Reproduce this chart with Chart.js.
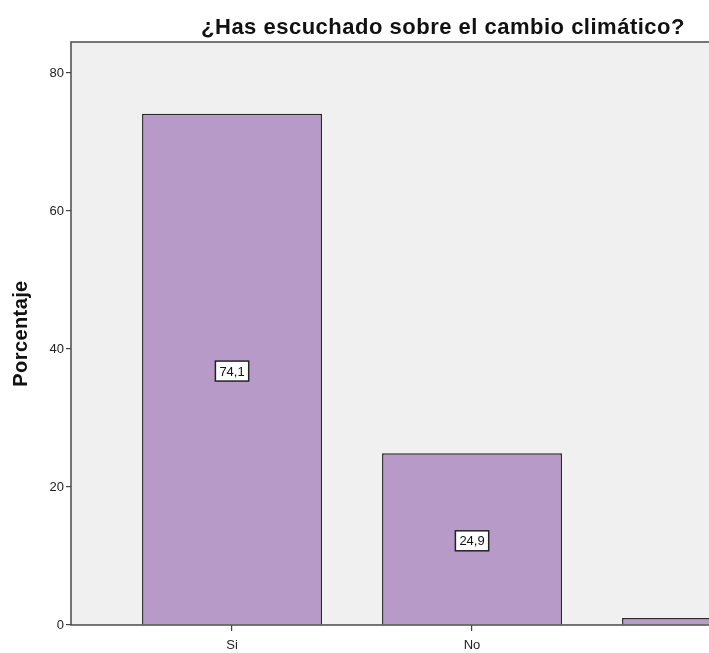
<!DOCTYPE html>
<html>
<head>
<meta charset="utf-8">
<script src="https://cdn.jsdelivr.net/npm/chart.js@4"></script>
<style>
    body { margin: 0; background: #fff; overflow: hidden; }
    #wrap { width: 830px; height: 653px; }
</style>
</head>
<body>
<div id="wrap"><canvas id="chart" width="830" height="653"></canvas></div>
<script>
const categories = ['Si', 'No', ''];
const percentages = [74.1, 24.9, 1.0];
const valueLabels = ['74,1', '24,9', ''];
const yTickValues = [0, 20, 40, 60, 80];
const chartTitle = '¿Has escuchado sobre el cambio climático?';
const yTitle = 'Porcentaje';

// plot background, frame, titles and value boxes
const framePlugin = {
    id: 'frame',
    beforeDraw(chart) {
        const { ctx, chartArea: a } = chart;
        ctx.save();
        ctx.fillStyle = '#f0f0f0';
        ctx.fillRect(a.left, a.top, a.right - a.left, a.bottom - a.top);
        ctx.restore();
    },
    afterDatasetsDraw(chart) {
        const { ctx, chartArea: a } = chart;
        ctx.save();
        ctx.strokeStyle = '#4a4a4a';
        ctx.lineWidth = 1.5;
        ctx.strokeRect(a.left, a.top, a.right - a.left, a.bottom - a.top);

        ctx.textAlign = 'center';
        ctx.textBaseline = 'middle';
        ctx.fillStyle = '#111';
        ctx.letterSpacing = '0.5px';
        ctx.font = 'bold 22px "Liberation Sans", Arial, sans-serif';
        ctx.fillText(chartTitle, (a.left + a.right) / 2, 28);

        ctx.save();
        ctx.letterSpacing = '0.4px';
        ctx.font = 'bold 20px "Liberation Sans", Arial, sans-serif';
        ctx.translate(21, (a.top + a.bottom) / 2);
        ctx.rotate(-Math.PI / 2);
        ctx.fillText(yTitle, 0, 0);
        ctx.restore();

        ctx.letterSpacing = '0px';
        ctx.font = '13px "Liberation Sans", Arial, sans-serif';
        chart.getDatasetMeta(0).data.forEach((bar, i) => {
            const txt = valueLabels[i];
            if (!txt) return;
            const cy = (bar.y + bar.base) / 2 + 2;
            const w = ctx.measureText(txt).width + 8;
            const h = 20;
            ctx.fillStyle = '#fff';
            ctx.fillRect(bar.x - w / 2, cy - h / 2, w, h);
            ctx.strokeStyle = '#222';
            ctx.lineWidth = 1.5;
            ctx.strokeRect(bar.x - w / 2, cy - h / 2, w, h);
            ctx.fillStyle = '#111';
            ctx.fillText(txt, bar.x, cy + 1);
        });
        ctx.restore();
    }
};

const ctx = document.getElementById('chart').getContext('2d');
new Chart(ctx, {
    type: 'bar',
    data: {
        datasets: [{
            data: percentages.map((v, i) => ({ x: i, y: v })),
            backgroundColor: '#b89ac9',
            borderColor: '#2a2a2a',
            borderWidth: 1.5,
            barPercentage: 0.75,
            categoryPercentage: 1
        }]
    },
    options: {
        responsive: false,
        animation: false,
        layout: { padding: { top: 42, right: 15, left: 0, bottom: 0 } },
        plugins: {
            legend: { display: false },
            tooltip: { enabled: false }
        },
        scales: {
            x: {
                type: 'linear',
                offset: false,
                min: -0.671,
                max: 2.429,
                afterBuildTicks: axis => { axis.ticks = categories.map((c, i) => ({ value: i })); },
                afterFit: axis => { axis.height = 28; },
                grid: { offset: false, drawOnChartArea: false, color: '#444', tickLength: 6, lineWidth: 1.2 },
                border: { display: false },
                ticks: {
                    callback: v => categories[v],
                    color: '#222',
                    padding: 7,
                    maxRotation: 0,
                    font: { family: '"Liberation Sans", Arial, sans-serif', size: 13 }
                }
            },
            y: {
                min: 0,
                max: 84.5,
                afterBuildTicks: axis => { axis.ticks = yTickValues.map(v => ({ value: v })); },
                afterFit: axis => { axis.width = 71; },
                grid: { drawOnChartArea: false, color: '#444', tickLength: 5, lineWidth: 1.2 },
                border: { display: false },
                ticks: {
                    color: '#222',
                    padding: 2,
                    font: { family: '"Liberation Sans", Arial, sans-serif', size: 13 }
                }
            }
        }
    },
    plugins: [framePlugin]
});
</script>
</body>
</html>
